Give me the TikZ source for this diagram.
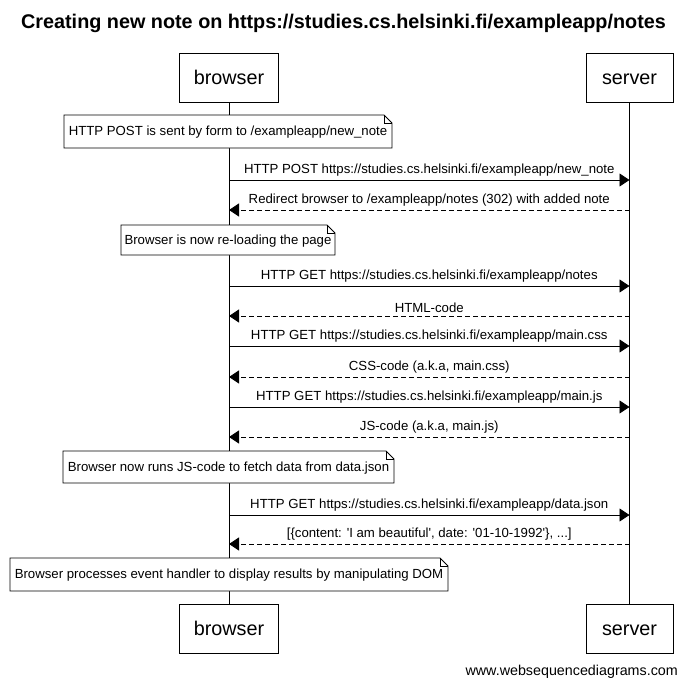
\documentclass[tikz,border=0pt]{standalone}
\usepackage{fontspec}
\setmainfont{Liberation Sans}
\usetikzlibrary{arrows.meta}
\begin{document}
\begin{tikzpicture}[x=1pt,y=-1pt,
  actor/.style={draw,line width=0.8pt,minimum width=99pt,minimum height=49pt,inner sep=0pt,font=\fontsize{19.8}{22}\selectfont,fill=white,text height=14pt,text depth=0pt},
  lbl/.style={font=\fontsize{13.2}{15}\selectfont,inner sep=0pt},
  msg/.style={line width=0.8pt,-{Triangle[length=10pt,width=13pt]}},
  reply/.style={msg,dash pattern=on 5pt off 3pt},
  notebox/.style={line width=0.8pt,fill=white},
  life/.style={line width=0.8pt}]
\useasboundingbox (0,0) rectangle (687,688);
\fill[white] (0,0) rectangle (687,688);
\node[font=\bfseries\fontsize{19.8}{22}\selectfont] (title) at (343.5,23.5) {Creating new note on https://studies.cs.helsinki.fi/exampleapp/notes};
% actors
\node[actor] (bt) at (229,77.5) {browser};
\node[actor,minimum width=87pt] (st) at (629.5,77.5) {server};
\node[actor] (bb) at (229,628.5) {browser};
\node[actor,minimum width=87pt] (sb) at (629.5,628.5) {server};
% lifelines
\draw[life] (bt.south) -- (bb.north);
\draw[life] (st.south) -- (sb.north);
% note macro
\newcommand{\mynote}[6]{%
  \draw[notebox] (#1,#2) -- (#3-8,#2) -- (#3,#2+8) -- (#3,#4) -- (#1,#4) -- cycle;
  \draw[line width=0.6pt] (#3-8,#2) -- (#3-8,#2+8) -- (#3,#2+8);
  \node[lbl] (#5) at ({(#1+#3)/2},{(#2+#4)/2+1}) {#6};}
\mynote{64}{115}{392}{148}{n1}{HTTP POST is sent by form to /exampleapp/new\_note}
\mynote{121}{225}{335}{255}{n2}{Browser is now re-loading the page}
\mynote{63}{451}{394}{483}{n3}{Browser now runs JS-code to fetch data from data.json}
\mynote{10}{558}{448}{591}{n4}{Browser processes event handler to display results by manipulating DOM}
% lifeline coordinates
\foreach \n/\y in {1/180,2/210,3/286,4/316,5/346,6/377,7/407,8/437,9/515,10/544}{
  \coordinate (b\n) at (bt.south |- 0,\y);
  \coordinate (s\n) at (st.south |- 0,\y);
}
\draw[msg] (b1) -- node[lbl,above=3pt] (m1) {HTTP POST https://studies.cs.helsinki.fi/exampleapp/new\_note} (s1);
\draw[reply] (s2) -- node[lbl,above=3pt] (m2) {Redirect browser to /exampleapp/notes (302) with added note} (b2);
\draw[msg] (b3) -- node[lbl,above=3pt] (m3) {HTTP GET https://studies.cs.helsinki.fi/exampleapp/notes} (s3);
\draw[reply] (s4) -- node[lbl,above=3pt] (m4) {HTML-code} (b4);
\draw[msg] (b5) -- node[lbl,above=3pt] (m5) {HTTP GET https://studies.cs.helsinki.fi/exampleapp/main.css} (s5);
\draw[reply] (s6) -- node[lbl,above=3pt] (m6) {CSS-code (a.k.a, main.css)} (b6);
\draw[msg] (b7) -- node[lbl,above=3pt] (m7) {HTTP GET https://studies.cs.helsinki.fi/exampleapp/main.js} (s7);
\draw[reply] (s8) -- node[lbl,above=3pt] (m8) {JS-code (a.k.a, main.js)} (b8);
\draw[msg] (b9) -- node[lbl,above=3pt] (m9) {HTTP GET https://studies.cs.helsinki.fi/exampleapp/data.json} (s9);
\draw[reply] (s10) -- node[lbl,above=3pt] (m10) {[\{content: \textquotesingle I am beautiful\textquotesingle, date: \textquotesingle 01-10-1992\textquotesingle\}, ...]} (b10);
\node[lbl,anchor=east,font=\fontsize{14.3}{16}\selectfont] (foot) at (678,672) {www.websequencediagrams.com};
\end{tikzpicture}
\end{document}
